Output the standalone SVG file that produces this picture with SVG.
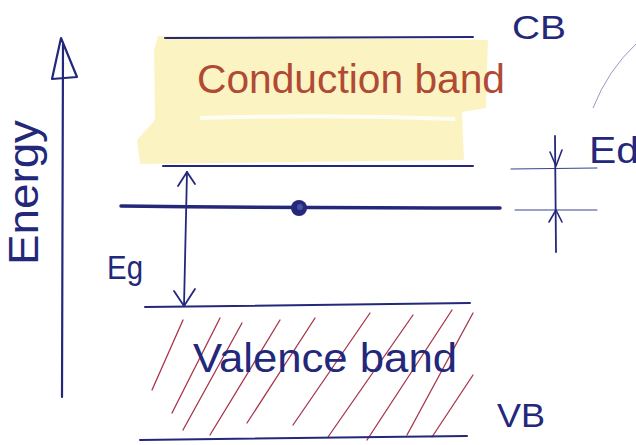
<svg xmlns="http://www.w3.org/2000/svg" width="636" height="445" viewBox="0 0 636 445">
<style>
.ink{stroke:#23287a;fill:none;stroke-linecap:round;stroke-linejoin:round}
.thin{stroke:#3a4090;fill:none;stroke-width:1;stroke-linecap:round}
.hatch{stroke:#a8344a;stroke-width:1.3;stroke-linecap:round;fill:none}
.lbl{font-family:"Liberation Sans",Arial,sans-serif;fill:#23287a}
.red{font-family:"Liberation Sans",Arial,sans-serif;fill:#b04a35}
</style>
<rect width="636" height="445" fill="#ffffff"/>
<g id="energy-axis">
<path class="ink" stroke-width="2.2" d="M63 44 L62 397"/>
<path class="ink" stroke-width="2.2" d="M52 79 L61 38 L77 77 Z"/>
<text class="lbl" font-size="42" transform="translate(38 265) rotate(-90)" textLength="145" lengthAdjust="spacingAndGlyphs">Energy</text>
</g>
<g id="conduction-band">
<path d="M158 36 L488 40 L486 108 L462 112 L464 160 L140 164 L137 140 L155 120 L154 50 Z" fill="#fbf4c2"/>
<path d="M200 118 Q330 114 455 119" stroke="#ffffff" stroke-width="4" fill="none" opacity="0.8"/>
<path class="ink" stroke-width="2" d="M165 38 L473 37"/>
<path class="ink" stroke-width="2" d="M163 166 L473 166"/>
<text class="red" x="197" y="93" font-size="40" textLength="308" lengthAdjust="spacingAndGlyphs">Conduction band</text>
<text class="lbl" x="512" y="39" font-size="34" textLength="54" lengthAdjust="spacingAndGlyphs">CB</text>
</g>
<g id="donor-level">
<path class="ink" stroke-width="3.5" d="M121 206 Q300 208 500 208"/>
<circle cx="299" cy="208" r="8" fill="#23287a"/>
<circle cx="300" cy="207" r="3" fill="#4a50a0"/>
</g>
<g id="valence-band">
<g>
<path class="hatch" d="M152 390 L183 320"/>
<path class="hatch" d="M172 413 L220 318"/>
<path class="hatch" d="M183 430 L242 323"/>
<path class="hatch" d="M210 435 L280 320"/>
<path class="hatch" d="M247 423 L315 318"/>
<path class="hatch" d="M293 425 L370 313"/>
<path class="hatch" d="M328 437 L413 315"/>
<path class="hatch" d="M367 440 L452 310"/>
<path class="hatch" d="M407 435 L473 313"/>
<path class="hatch" d="M432 437 L473 375"/>
</g>
<path class="ink" stroke-width="2" d="M145 307 L470 303"/>
<path class="ink" stroke-width="2" d="M140 440 L467 436"/>
<text class="lbl" x="193" y="372" font-size="40" textLength="264" lengthAdjust="spacingAndGlyphs">Valence band</text>
<text class="lbl" x="497" y="427" font-size="34" textLength="48" lengthAdjust="spacingAndGlyphs">VB</text>
</g>
<g id="eg-gap">
<path class="ink" stroke-width="1.8" d="M187 172 L184 306"/>
<path class="ink" stroke-width="1.8" d="M178 186 L187 172 L195 184"/>
<path class="ink" stroke-width="1.8" d="M174 291 L184 306 L195 289"/>
<text class="lbl" x="107" y="279" font-size="34" textLength="36" lengthAdjust="spacingAndGlyphs">Eg</text>
</g>
<g id="ed-marker">
<path class="thin" d="M511 169 L597 168"/>
<path class="thin" d="M515 210 L597 210"/>
<path class="ink" stroke-width="1.8" d="M555 136 L556 252"/>
<path class="ink" stroke-width="1.6" d="M550 152 L556 166 L562 150"/>
<path class="ink" stroke-width="1.6" d="M549 222 L556 210 L562 222"/>
<text class="lbl" x="589" y="163" font-size="36" textLength="50" lengthAdjust="spacingAndGlyphs">Ed</text>
</g>
<path d="M593 108 Q608 70 636 44" stroke="#6670a8" stroke-width="1" fill="none" opacity="0.7"/>
</svg>
